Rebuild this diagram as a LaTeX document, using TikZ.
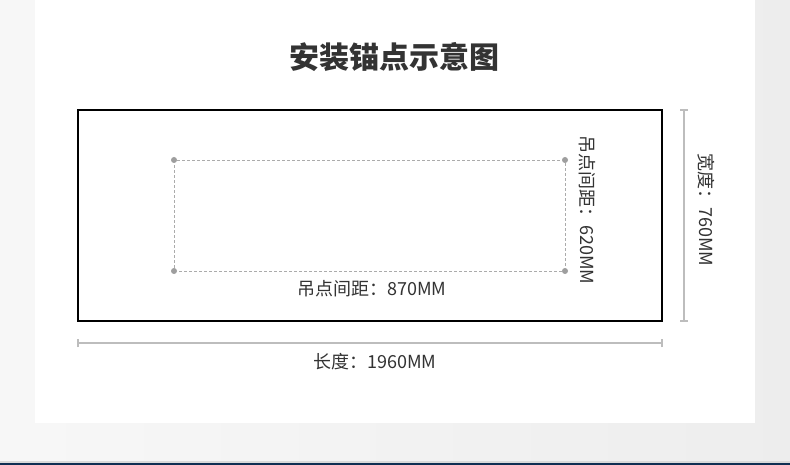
\documentclass[tikz,border=0pt]{standalone}
\usepackage{fontspec}
\setmainfont{Noto Sans CJK SC}
\definecolor{txt}{HTML}{333333}
\definecolor{dimgray}{HTML}{BDBDBD}
\definecolor{dashgray}{HTML}{ABABAB}
\definecolor{navy}{HTML}{0F2E52}
\begin{document}
\begin{tikzpicture}[x=1pt,y=-1pt,
  lbl/.style={text=txt,font=\fontsize{18}{20}\selectfont,inner sep=0pt},
  dimline/.style={draw=dimgray,line width=1.2pt},
  anchorpt/.style={circle,fill=black!38,inner sep=0pt,minimum size=6pt}]
\useasboundingbox (0,0) rectangle (790,465);
% background
\shade[left color=black!3,right color=black!7] (0,0) rectangle (790,465);
\fill[white] (35,0) rectangle (755,423);
\fill[black!15] (0,461) rectangle (790,462.5);
\fill[navy] (0,462.5) rectangle (790,465);
% title
\node[text=txt,font=\fontsize{30}{33}\selectfont\bfseries,inner sep=0pt] (title) at (394,57) {安装锚点示意图};
% main rectangle
\draw[black,line width=2pt] (78,110) rectangle (662,321);
% anchor points
\node[anchorpt] (p1) at (174,160) {};
\node[anchorpt] (p2) at (565,160) {};
\node[anchorpt] (p3) at (565,271) {};
\node[anchorpt] (p4) at (174,271) {};
\draw[dashgray,line width=0.8pt,dash pattern=on 3pt off 2pt] (p1) -- (p2) -- (p3) -- (p4) -- (p1);
\node[lbl] (l870) at (372,289) {吊点间距：870MM};
\node[lbl,rotate=-90] (l620) at (587,210) {吊点间距：620MM};
% width dimension
\coordinate (wt) at (684,110);
\coordinate (wb) at (684,321);
\draw[dimline] (wt) -- (wb);
\draw[dimline] ([xshift=-4pt]wt) -- ([xshift=4pt]wt);
\draw[dimline] ([xshift=-4pt]wb) -- ([xshift=4pt]wb);
\node[lbl,rotate=-90] (l760) at (706,210) {宽度：760MM};
% length dimension
\coordinate (ll) at (78,343);
\coordinate (lr) at (662,343);
\draw[dimline] (ll) -- (lr);
\draw[dimline] ([yshift=-4pt]ll) -- ([yshift=4pt]ll);
\draw[dimline] ([yshift=-4pt]lr) -- ([yshift=4pt]lr);
\node[lbl] (l1960) at (375,362) {长度：1960MM};
\end{tikzpicture}
\end{document}
